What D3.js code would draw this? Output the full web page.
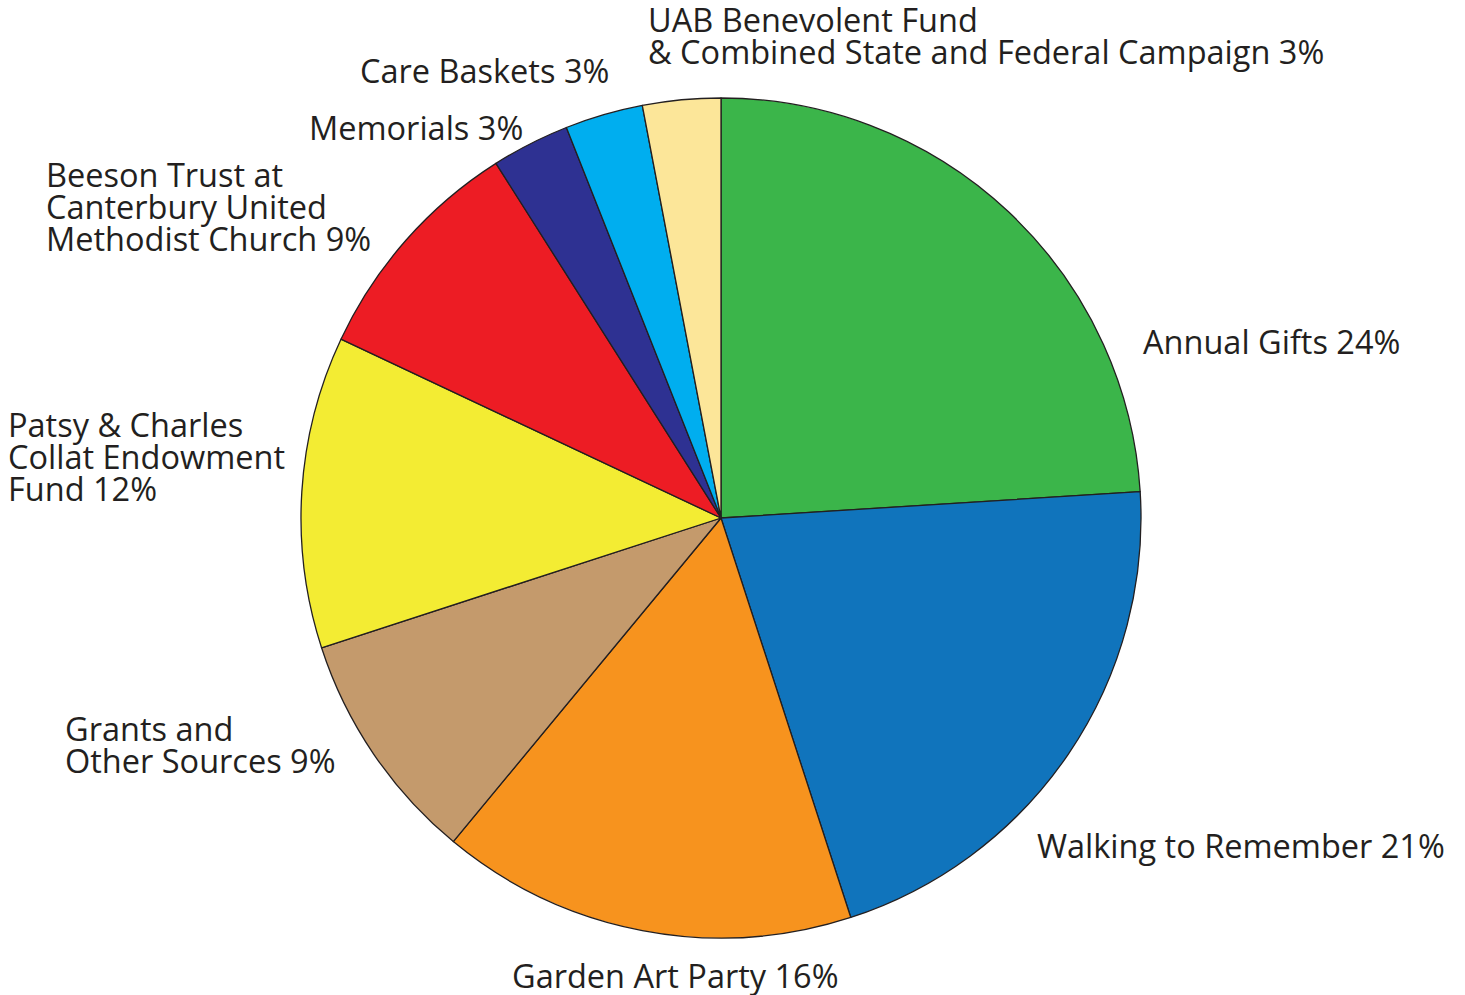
<!DOCTYPE html>
<html>
<head>
<meta charset="utf-8">
<script src="https://cdn.jsdelivr.net/npm/d3@7"></script>
<style>
  body { margin: 0; background: #fff; }
  text { font-family: "Open Sans", sans-serif; fill: #231f20; }
</style>
</head>
<body>
<div id="chart"></div>
<script>
// data
const categories = ["Annual Gifts", "Walking to Remember", "Garden Art Party", "Grants and Other Sources",
    "Patsy & Charles Collat Endowment Fund", "Beeson Trust at Canterbury United Methodist Church",
    "Memorials", "Care Baskets", "UAB Benevolent Fund & Combined State and Federal Campaign"];
const shares = [24, 21, 16, 9, 12, 9, 3, 3, 3];
const colors = ["#3bb54a", "#1074bc", "#f7931e", "#c49a6c", "#f3ec33", "#ed1c24", "#2e3192", "#00aeef", "#fce699"];
const labelLines = [
    ["Annual Gifts 24%"],
    ["Walking to Remember 21%"],
    ["Garden Art Party 16%"],
    ["Grants and", "Other Sources 9%"],
    ["Patsy & Charles", "Collat Endowment", "Fund 12%"],
    ["Beeson Trust at", "Canterbury United", "Methodist Church 9%"],
    ["Memorials 3%"],
    ["Care Baskets 3%"],
    ["UAB Benevolent Fund", "& Combined State and Federal Campaign 3%"]
];

// label anchor points (left x, first baseline y)
const labelPos = [[1143, 354], [1037, 858], [512, 988], [65, 741], [8, 437], [46, 187], [309, 140], [360, 83], [648, 32]];

const width = 1465, height = 995;
const cx = 721, cy = 518, radius = 420;
const lineHeight = 32;

const svg = d3.select("#chart").append("svg")
    .attr("width", width)
    .attr("height", height);

const pie = d3.pie().sort(null).value(d => d.value);
const arc = d3.arc().innerRadius(0).outerRadius(radius);

const data = categories.map((c, i) => ({name: c, value: shares[i], color: colors[i]}));

const g = svg.append("g")
    .attr("transform", `translate(${cx}, ${cy})`);

g.selectAll("path")
    .data(pie(data))
    .enter()
    .append("path")
    .attr("d", arc)
    .attr("fill", d => d.data.color)
    .attr("stroke", "#231f20")
    .attr("stroke-width", 1.3)
    .attr("stroke-linejoin", "round");

// labels
const labels = svg.selectAll(".label")
    .data(labelLines)
    .enter()
    .append("text")
    .attr("class", "label")
    .attr("x", (d, i) => labelPos[i][0])
    .attr("y", (d, i) => labelPos[i][1])
    .style("font-size", "32.5px");

labels.selectAll("tspan")
    .data((d, i) => d.map(line => ({line, i})))
    .enter()
    .append("tspan")
    .attr("x", d => labelPos[d.i][0])
    .attr("dy", (d, j) => j === 0 ? 0 : lineHeight)
    .text(d => d.line);
</script>
</body>
</html>
